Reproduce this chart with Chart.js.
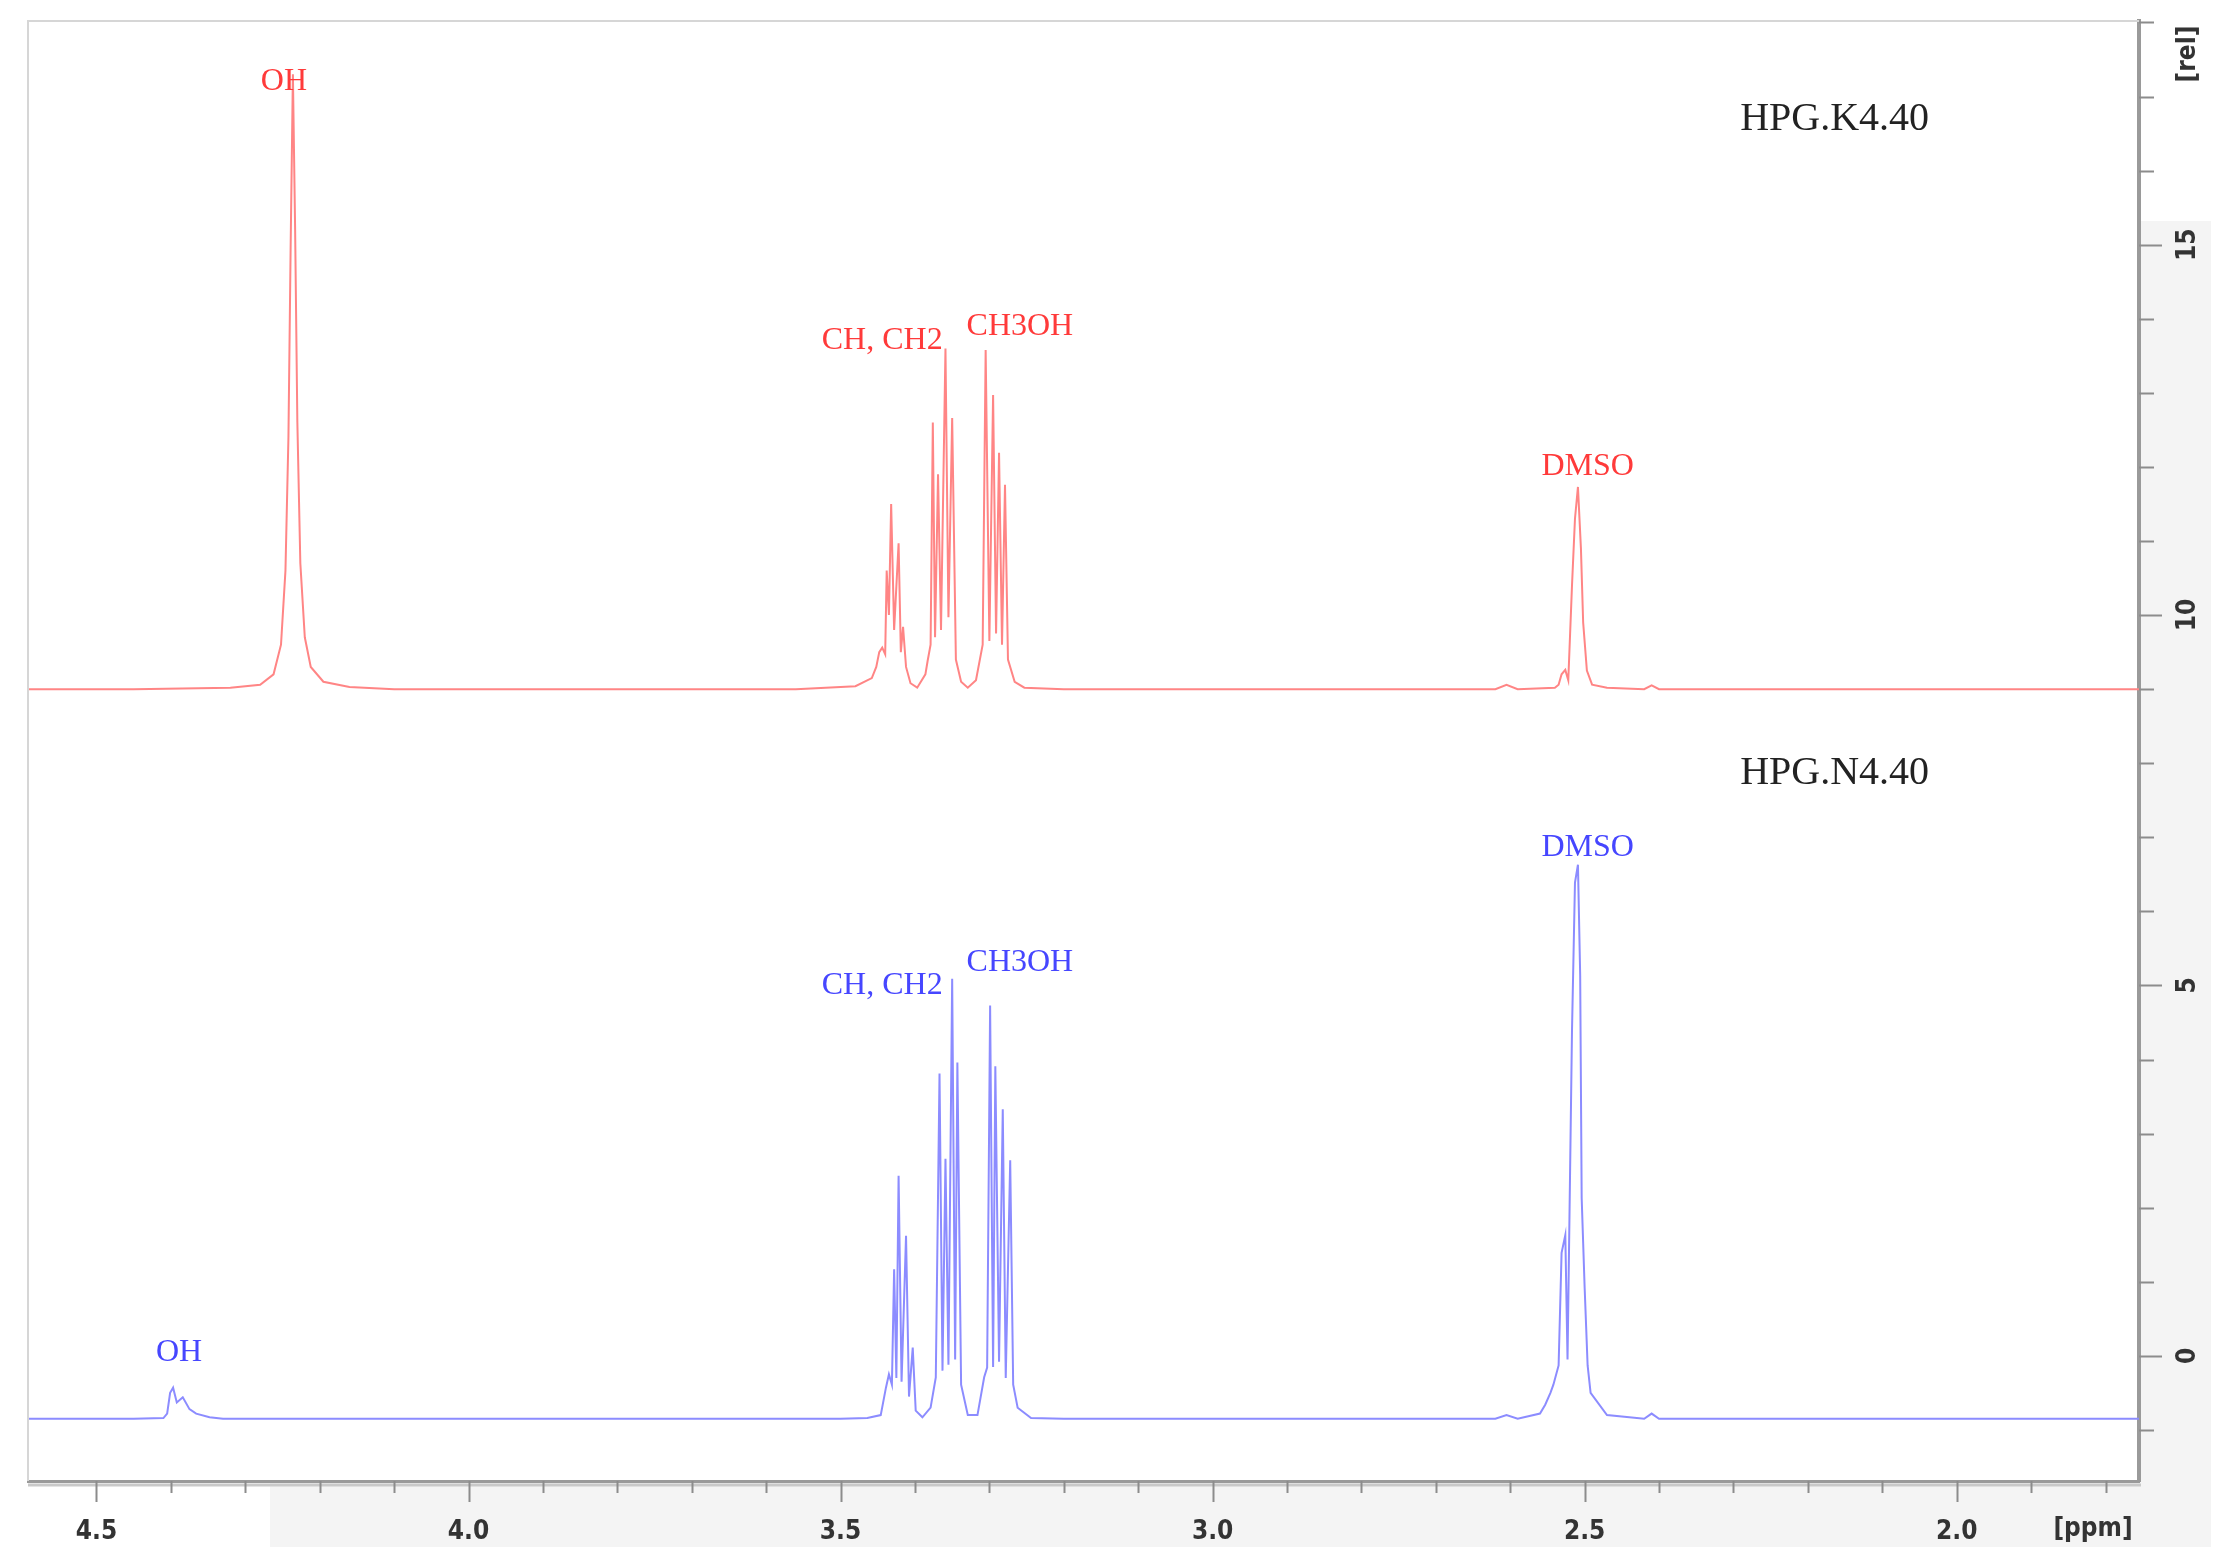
<!DOCTYPE html>
<html>
<head>
<meta charset="utf-8">
<title>HPG 1H NMR</title>
<script src="https://cdn.jsdelivr.net/npm/chart.js@4.4.1/dist/chart.umd.min.js"></script>
<style>
  html, body { margin: 0; padding: 0; background: #fff; }
  #wrap { width: 2232px; height: 1563px; }
</style>
</head>
<body>
<div id="wrap"><canvas id="nmr" width="2232" height="1563"></canvas></div>
<script>
// chemical shift (ppm) and intensity (rel), HPG.K4.40 (red, top trace)
const redPpm = [
    4.592, 4.45, 4.32, 4.28, 4.262, 4.252, 4.246, 4.242, 4.239, 4.236, 4.233, 4.230, 4.226, 4.220, 4.212, 4.195, 4.16, 4.10,
    3.90, 3.56, 3.48, 3.458, 3.452, 3.448, 3.444, 3.440, 3.438, 3.435, 3.432, 3.428, 3.422, 3.419, 3.416, 3.412, 3.406, 3.397,
    3.386, 3.383, 3.379, 3.376, 3.373, 3.369, 3.365, 3.359, 3.355, 3.350, 3.345, 3.338, 3.329,
    3.318, 3.309, 3.305, 3.300, 3.295, 3.291, 3.287, 3.283, 3.279, 3.275, 3.266, 3.253, 3.20,
    2.90, 2.62, 2.605, 2.59, 2.54, 2.535, 2.531, 2.526, 2.522, 2.517, 2.513, 2.509, 2.505, 2.502, 2.497, 2.490, 2.47,
    2.42, 2.41, 2.40, 2.10, 1.755
];
const redInt = [
    9.0, 9.0, 9.02, 9.06, 9.2, 9.6, 10.6, 12.4, 15.0, 17.3, 15.2, 12.6, 10.7, 9.7, 9.3, 9.1, 9.03, 9.0,
    9.0, 9.0, 9.04, 9.15, 9.3, 9.5, 9.56, 9.47, 10.6, 10.0, 11.5, 9.8, 10.97, 9.5, 9.84, 9.3, 9.08, 9.02,
    9.2, 9.38, 9.6, 12.6, 9.7, 11.9, 9.8, 13.6, 9.97, 12.66, 9.4, 9.1, 9.02,
    9.12, 9.6, 13.58, 9.65, 12.97, 9.75, 12.19, 9.6, 11.76, 9.4, 9.1, 9.02, 9.0,
    9.0, 9.0, 9.06, 9.0, 9.02, 9.06, 9.2, 9.26, 9.12, 10.4, 11.3, 11.73, 10.9, 9.9, 9.25, 9.06, 9.02,
    9.0, 9.05, 9.0, 9.0, 9.0
];

// HPG.N4.40 (blue, bottom trace)
const bluePpm = [
    4.592, 4.45, 4.41, 4.405, 4.401, 4.397, 4.392, 4.384, 4.375, 4.366, 4.348, 4.33,
    3.80, 3.50, 3.464, 3.446, 3.439, 3.435, 3.431, 3.428, 3.425, 3.422, 3.418, 3.412, 3.408, 3.403, 3.399, 3.390,
    3.379, 3.372, 3.367, 3.363, 3.359, 3.355, 3.350, 3.346, 3.343, 3.338, 3.329,
    3.316, 3.307, 3.303, 3.299, 3.295, 3.292, 3.287, 3.282, 3.278, 3.272, 3.268, 3.262, 3.244, 3.20,
    2.62, 2.605, 2.59, 2.56, 2.553, 2.546, 2.542, 2.535, 2.531, 2.526, 2.523, 2.517, 2.513, 2.509, 2.506, 2.504, 2.500, 2.496, 2.492, 2.47,
    2.42, 2.41, 2.40, 1.755
];
const blueInt = [
    -0.85, -0.85, -0.84, -0.78, -0.5, -0.43, -0.63, -0.56, -0.72, -0.78, -0.83, -0.85,
    -0.85, -0.85, -0.84, -0.8, -0.43, -0.25, -0.39, 1.17, -0.3, 2.43, -0.35, 1.62, -0.55, 0.11, -0.74, -0.83,
    -0.7, -0.29, 3.81, -0.2, 2.66, -0.12, 5.09, -0.05, 3.96, -0.39, -0.8,
    -0.8, -0.29, -0.16, 4.73, -0.15, 3.91, -0.08, 3.33, -0.3, 2.64, -0.39, -0.7, -0.84, -0.85,
    -0.85, -0.8, -0.85, -0.78, -0.66, -0.5, -0.39, -0.13, 1.39, 1.63, -0.05, 4.39, 6.39, 6.63, 5.13, 2.13, 0.92, -0.13, -0.5, -0.8,
    -0.85, -0.78, -0.85, -0.85
];

// peak labels: text, ppm, intensity of the label centre
const redLabels = ['OH', 'CH, CH2', 'CH3OH', 'DMSO'];
const redLabelPpm = [4.248, 3.444, 3.259, 2.496];
const redLabelInt = [17.2, 13.7, 13.9, 12.0];
const blueLabels = ['OH', 'CH, CH2', 'CH3OH', 'DMSO'];
const blueLabelPpm = [4.389, 3.444, 3.259, 2.496];
const blueLabelInt = [0.05, 5.0, 5.31, 6.86];
const sampleNames = ['HPG.K4.40', 'HPG.N4.40'];
const sampleNamePpm = [2.164, 2.164];
const sampleNameInt = [16.69, 7.86];

const X_MIN = 1.755, X_MAX = 4.592;
const Y_MIN = -1.69, Y_MAX = 18.02;

function toPoints(xs, ys) {
    return xs.map((x, i) => ({ x: x, y: ys[i] }));
}

function isStep(v, step) {
    return Math.abs(v / step - Math.round(v / step)) < 1e-6;
}

const tickFont = 'bold 26px "Liberation Sans Narrow", "DejaVu Sans Condensed", sans-serif';

const nmrDecor = {
    id: 'nmrDecor',
    beforeDraw(chart) {
        const { ctx, chartArea: a } = chart;
        ctx.save();
        // light grey panels behind the axes
        ctx.fillStyle = '#f4f4f4';
        ctx.fillRect(270, a.bottom, 2211 - 270, 1547 - a.bottom);
        ctx.fillRect(a.right, 221, 2211 - a.right, 1547 - 221);
        ctx.restore();
    },
    afterDatasetsDraw(chart) {
        const { ctx } = chart;
        const xs = chart.scales.x, ys = chart.scales.y;
        ctx.save();
        ctx.textAlign = 'center';
        ctx.textBaseline = 'middle';
        ctx.font = '32px "Liberation Serif", "DejaVu Serif", serif';
        ctx.fillStyle = '#ff3a3a';
        redLabels.forEach((t, i) => {
            ctx.fillText(t, xs.getPixelForValue(redLabelPpm[i]), ys.getPixelForValue(redLabelInt[i]));
        });
        ctx.fillStyle = '#4646ff';
        blueLabels.forEach((t, i) => {
            ctx.fillText(t, xs.getPixelForValue(blueLabelPpm[i]), ys.getPixelForValue(blueLabelInt[i]));
        });
        ctx.font = '40px "Liberation Serif", "DejaVu Serif", serif';
        ctx.fillStyle = '#222';
        sampleNames.forEach((t, i) => {
            ctx.fillText(t, xs.getPixelForValue(sampleNamePpm[i]), ys.getPixelForValue(sampleNameInt[i]));
        });
        ctx.restore();
    },
    afterDraw(chart) {
        const { ctx, chartArea: a } = chart;
        const xs = chart.scales.x, ys = chart.scales.y;
        ctx.save();
        // thin frame on top and left
        ctx.strokeStyle = '#d6d6d6';
        ctx.lineWidth = 2;
        ctx.beginPath();
        ctx.moveTo(a.left, a.bottom);
        ctx.lineTo(a.left, a.top);
        ctx.lineTo(a.right, a.top);
        ctx.stroke();
        // shadow under the ppm axis
        ctx.strokeStyle = '#c9c9c9';
        ctx.lineWidth = 3;
        ctx.beginPath();
        ctx.moveTo(a.left, a.bottom + 4);
        ctx.lineTo(a.right + 2, a.bottom + 4);
        ctx.stroke();

        // tick marks
        ctx.strokeStyle = '#8c8c8c';
        ctx.lineWidth = 2;
        ctx.beginPath();
        xs.ticks.forEach(t => {
            const px = Math.round(xs.getPixelForValue(t.value)) + 0.5;
            const len = isStep(t.value, 0.5) ? 21 : 12;
            ctx.moveTo(px, a.bottom);
            ctx.lineTo(px, a.bottom + len);
        });
        ys.ticks.forEach(t => {
            const py = Math.round(ys.getPixelForValue(t.value)) + 0.5;
            const len = isStep(t.value, 5) ? 23 : 15;
            ctx.moveTo(a.right, py);
            ctx.lineTo(a.right + len, py);
        });
        ctx.stroke();

        // rotated intensity labels
        ctx.fillStyle = '#333';
        ctx.font = tickFont;
        ctx.textAlign = 'center';
        ctx.textBaseline = 'middle';
        ys.ticks.forEach(t => {
            if (!isStep(t.value, 5)) return;
            ctx.save();
            ctx.translate(a.right + 49, ys.getPixelForValue(t.value));
            ctx.rotate(-Math.PI / 2);
            ctx.fillText(String(Math.round(t.value)), 0, 0);
            ctx.restore();
        });
        ctx.save();
        ctx.translate(a.right + 49, 54);
        ctx.rotate(-Math.PI / 2);
        ctx.fillText('[rel]', 0, 0);
        ctx.restore();
        ctx.fillText('[ppm]', 2093, 1529);
        ctx.restore();
    }
};

new Chart(document.getElementById('nmr'), {
    type: 'scatter',
    data: {
        datasets: [
            {
                label: sampleNames[0],
                data: toPoints(redPpm, redInt),
                showLine: true,
                borderColor: '#ff8585',
                borderWidth: 2,
                pointRadius: 0,
                tension: 0
            },
            {
                label: sampleNames[1],
                data: toPoints(bluePpm, blueInt),
                showLine: true,
                borderColor: '#8c8cff',
                borderWidth: 2,
                pointRadius: 0,
                tension: 0
            }
        ]
    },
    options: {
        responsive: false,
        devicePixelRatio: 1,
        animation: false,
        layout: { padding: { left: 28, top: 21, right: 0, bottom: 0 } },
        plugins: {
            legend: { display: false },
            tooltip: { enabled: false }
        },
        scales: {
            x: {
                type: 'linear',
                position: 'bottom',
                reverse: true,
                min: X_MIN,
                max: X_MAX,
                afterFit: s => { s.height = 82; },
                grid: { drawOnChartArea: false, drawTicks: false },
                border: { display: true, color: '#9a9a9a', width: 3 },
                ticks: {
                    stepSize: 0.1,
                    includeBounds: false,
                    autoSkip: false,
                    maxRotation: 0,
                    minRotation: 0,
                    padding: 36,
                    color: '#333',
                    font: { family: '"Liberation Sans Narrow", "DejaVu Sans Condensed", sans-serif', weight: 'bold', size: 26 },
                    callback: v => isStep(v, 0.5) ? v.toFixed(1) : ''
                }
            },
            y: {
                type: 'linear',
                position: 'right',
                min: Y_MIN,
                max: Y_MAX,
                afterFit: s => { s.width = 93; },
                grid: { drawOnChartArea: false, drawTicks: false },
                border: { display: true, color: '#9a9a9a', width: 4 },
                ticks: { stepSize: 1, includeBounds: false, display: false }
            }
        }
    },
    plugins: [nmrDecor]
});
</script>
</body>
</html>
